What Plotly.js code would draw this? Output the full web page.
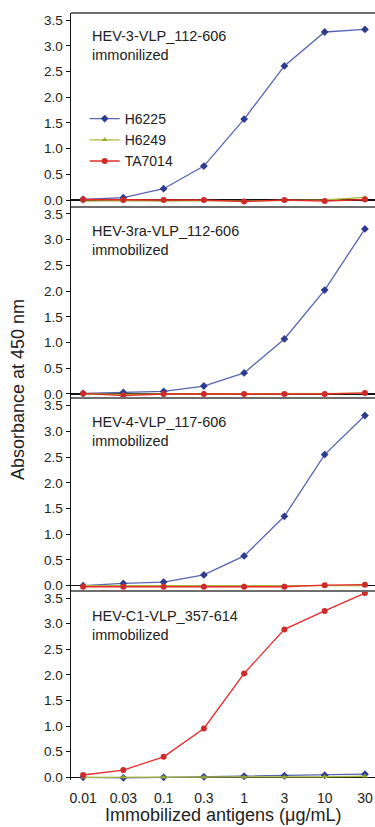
<!DOCTYPE html>
<html>
<head>
<meta charset="utf-8">
<script src="https://cdn.plot.ly/plotly-3.0.1.min.js"></script>
<style>html,body{margin:0;padding:0;background:#fff;}#chart{width:375px;height:827px;}</style>
</head>
<body>
<div id="chart"></div>
<script>
// Concentrations of immobilized antigens (µg/mL)
const concentrations = ['0.01','0.03','0.1','0.3','1','3','10','30'];
const seriesNames = ['H6225','H6249','TA7014'];
const panelLabels = [
  'HEV-3-VLP_112-606<br>immonilized',
  'HEV-3ra-VLP_112-606<br>immobilized',
  'HEV-4-VLP_117-606<br>immobilized',
  'HEV-C1-VLP_357-614<br>immobilized'
];
const yTickVals = [0,0.5,1,1.5,2,2.5,3,3.5];

// Panel 1: HEV-3-VLP_112-606
const p1_H6225  = [0.01, 0.045, 0.22, 0.66, 1.575, 2.61, 3.27, 3.32];
const p1_H6249  = [-0.02, -0.01, -0.02, -0.01, -0.02, -0.01, 0.0, 0.05];
const p1_TA7014 = [0.01, 0.0, 0.0, 0.0, -0.03, 0.0, -0.02, 0.01];
// Panel 2: HEV-3ra-VLP_112-606
const p2_H6225  = [0.01, 0.03, 0.05, 0.155, 0.41, 1.07, 2.02, 3.21];
const p2_H6249  = [0.0, -0.01, 0.0, 0.0, 0.0, 0.0, 0.0, 0.01];
const p2_TA7014 = [0.01, -0.03, 0.0, 0.0, 0.0, 0.0, 0.0, 0.02];
// Panel 3: HEV-4-VLP_117-606
const p3_H6225  = [0.0, 0.045, 0.07, 0.21, 0.58, 1.35, 2.55, 3.31];
const p3_H6249  = [0.0, 0.0, 0.0, 0.0, 0.0, 0.0, 0.0, 0.0];
const p3_TA7014 = [-0.02, -0.02, -0.02, -0.02, -0.02, -0.02, 0.01, 0.02];
// Panel 4: HEV-C1-VLP_357-614
const p4_H6225  = [0.0, -0.01, 0.0, 0.01, 0.02, 0.03, 0.04, 0.06];
const p4_H6249  = [0.0, 0.0, 0.0, 0.0, 0.0, 0.0, 0.01, 0.02];
const p4_TA7014 = [0.045, 0.14, 0.40, 0.955, 2.03, 2.89, 3.25, 3.60];

const panels = [
  [p1_H6225, p1_H6249, p1_TA7014],
  [p2_H6225, p2_H6249, p2_TA7014],
  [p3_H6225, p3_H6249, p3_TA7014],
  [p4_H6225, p4_H6249, p4_TA7014]
];

const styles = [
  {line:'#5865b0', marker:'#2e3b8f', symbol:'diamond', size:6},
  {line:'#a9b83c', marker:'#98aa28', symbol:'triangle-up', size:5},
  {line:'#e62a2a', marker:'#cf2a2a', symbol:'circle', size:6}
];

const FONT = '"Liberation Sans", Arial, sans-serif';
const TXT = '#222';

const traces = [];
panels.forEach((pd, pi) => {
  pd.forEach((vals, si) => {
    const st = styles[si];
    traces.push({
      type:'scatter', mode:'lines+markers',
      x: concentrations, y: vals,
      name: seriesNames[si],
      xaxis:'x', yaxis: pi === 0 ? 'y' : 'y' + (pi+1),
      line:{color:st.line, width:1.3},
      marker:{color:st.marker, symbol:st.symbol, size:st.size},
      showlegend: pi === 0,
      cliponaxis:false
    });
  });
});

// plot area: top 13px, bottom 780px (height 767)
const toPaper = px => (780 - px) / 767;
const domains = [
  [toPaper(207), 1],
  [toPaper(398), toPaper(207)],
  [toPaper(591), toPaper(398)],
  [0, toPaper(591)]
];
const ranges = [
  [-0.136, 3.64],
  [-0.078, 3.636],
  [-0.103, 3.65],
  [-0.053, 3.64]
];

function yax(i){
  return {
    domain: domains[i], range: ranges[i], anchor:'x',
    tickvals: yTickVals, tickformat:'.1f',
    ticks:'outside', ticklen:4, tickwidth:1, tickcolor:'#111',
    showline:true, linecolor:'#111', linewidth:1.5,
    showgrid:false, zeroline:true, zerolinecolor:'#111', zerolinewidth:1.5,
    tickfont:{family:FONT, size:13.5, color:TXT}
  };
}

const layout = {
  width:375, height:827,
  margin:{l:71, r:0, t:13, b:47},
  paper_bgcolor:'#fff', plot_bgcolor:'#fff',
  font:{family:FONT, color:TXT},
  showlegend:true,
  legend:{x:0.045, y:toPaper(103), xanchor:'left', yanchor:'top',
          bgcolor:'rgba(0,0,0,0)', font:{family:FONT, size:14, color:TXT},
          tracegroupgap:0, itemwidth:30},
  xaxis:{
    type:'category', categoryorder:'array', categoryarray:concentrations,
    range:[-0.3, 7.25], anchor:'y4',
    showline:false, showgrid:false, zeroline:false,
    ticks:'outside', ticklen:5, tickcolor:'rgba(0,0,0,0)',
    tickfont:{family:FONT, size:14, color:TXT}
  },
  yaxis: yax(0), yaxis2: yax(1), yaxis3: yax(2), yaxis4: yax(3),
  shapes: [13, 207, 398, 591].map(px => ({
    type:'line', xref:'paper', yref:'paper', x0:0, x1:1,
    y0:toPaper(px), y1:toPaper(px), line:{color:'#6e6e6e', width:2}
  })),
  annotations: [
    ...panelLabels.map((t, i) => ({
      text:t, xref:'paper', yref:'paper',
      x:(90-71)/304, y:toPaper([45.5, 240.5, 431.5, 625.5][i]),
      xanchor:'left', yanchor:'middle', align:'left', showarrow:false,
      font:{family:FONT, size:14.5, color:TXT}
    })),
    {text:'Absorbance at 450 nm', xref:'paper', yref:'paper',
     x:(18-71)/304, y:toPaper(390), textangle:-90,
     xanchor:'center', yanchor:'middle', showarrow:false,
     font:{family:FONT, size:18, color:TXT}},
    {text:'Immobilized antigens (μg/mL)', xref:'paper', yref:'paper',
     x:(223-71)/304, y:toPaper(815),
     xanchor:'center', yanchor:'middle', showarrow:false,
     font:{family:FONT, size:18, color:TXT}}
  ]
};

Plotly.newPlot('chart', traces, layout, {displayModeBar:false, staticPlot:true});
</script>
</body>
</html>
